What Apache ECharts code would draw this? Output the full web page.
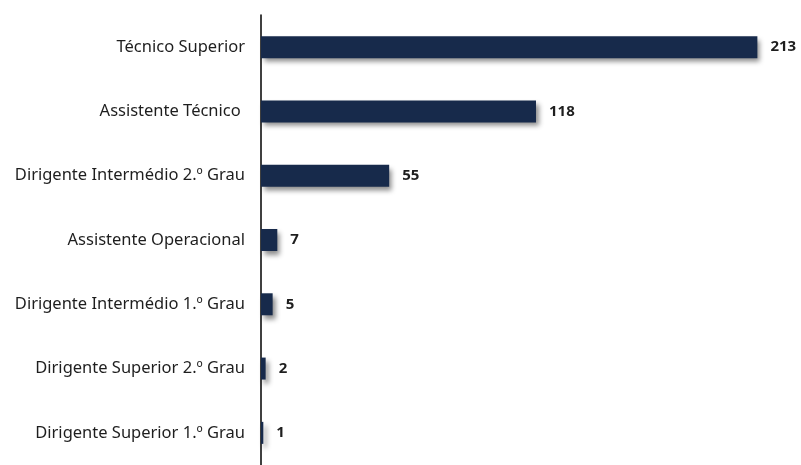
<!DOCTYPE html>
<html>
<head>
<meta charset="utf-8">
<script src="https://cdn.jsdelivr.net/npm/echarts@6/dist/echarts.min.js"></script>
<style>
  html, body { margin: 0; padding: 0; background: #ffffff; }
  #chart { width: 801px; height: 465px; }
</style>
</head>
<body>
<div id="chart"></div>
<script>
// Staff counts by career category
const categories = [
  'Técnico Superior',
  'Assistente Técnico ',
  'Dirigente Intermédio 2.º Grau',
  'Assistente Operacional',
  'Dirigente Intermédio 1.º Grau',
  'Dirigente Superior 2.º Grau',
  'Dirigente Superior 1.º Grau'
];
const counts = [213, 118, 55, 7, 5, 2, 1];

const chart = echarts.init(document.getElementById('chart'), null, { renderer: 'canvas' });

chart.setOption({
  animation: false,
  grid: { left: 261, top: 15, width: 536, height: 455, containLabel: false },
  xAxis: {
    type: 'value',
    min: 0,
    max: 230,
    show: false
  },
  yAxis: {
    type: 'category',
    data: categories,
    inverse: true,
    axisLine: { show: true, lineStyle: { color: '#000000', width: 1.5 } },
    axisTick: { show: false },
    axisLabel: {
      margin: 16,
      color: '#1e1e1e',
      fontFamily: 'Noto Sans',
      fontSize: 16.5
    }
  },
  series: [{
    type: 'bar',
    data: counts,
    barWidth: 22,
    itemStyle: {
      color: '#172a4b',
      shadowColor: 'rgba(0,0,0,0.45)',
      shadowBlur: 5,
      shadowOffsetX: 3,
      shadowOffsetY: 4
    },
    label: {
      show: true,
      position: 'right',
      distance: 13,
      color: '#1e1e1e',
      fontFamily: 'Noto Sans',
      fontWeight: 'bold',
      fontSize: 15
    }
  }]
});
</script>
</body>
</html>
